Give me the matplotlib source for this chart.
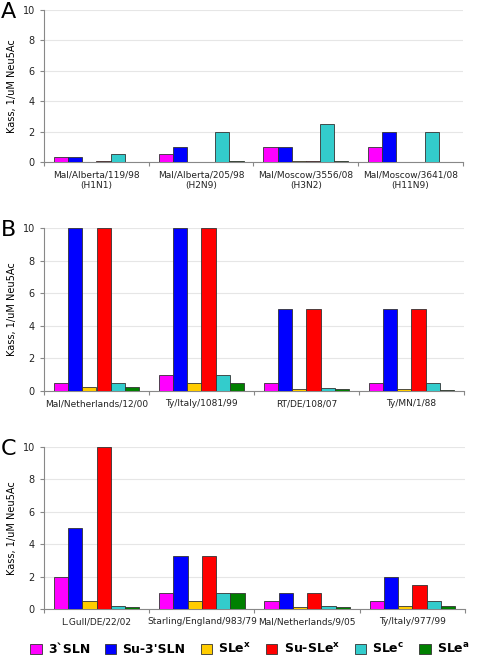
import numpy as np
import matplotlib
matplotlib.use("Agg")
from matplotlib import pyplot as plt
from matplotlib.patches import Patch

series = ["3`SLN", "Su-3'SLN", "SLe$^\\mathbf{x}$", "Su-SLe$^\\mathbf{x}$", "SLe$^\\mathbf{c}$", "SLe$^\\mathbf{a}$"]
colors = ["#ff00ff", "#0000ff", "#ffcc00", "#ff0000", "#33cccc", "#008000"]

strains_a = ["Mal/Alberta/119/98\n(H1N1)", "Mal/Alberta/205/98\n(H2N9)",
             "Mal/Moscow/3556/08\n(H3N2)", "Mal/Moscow/3641/08\n(H11N9)"]
values_a = [[0.35, 0.35, 0, 0.05, 0.5, 0],
            [0.5, 1.0, 0, 0, 2.0, 0.05],
            [1.0, 1.0, 0.05, 0.05, 2.5, 0.05],
            [1.0, 2.0, 0, 0, 2.0, 0]]

strains_b = ["Mal/Netherlands/12/00", "Ty/Italy/1081/99", "RT/DE/108/07", "Ty/MN/1/88"]
values_b = [[0.5, 10, 0.25, 10, 0.5, 0.25],
            [1.0, 10, 0.5, 10, 1.0, 0.5],
            [0.5, 5, 0.15, 5, 0.2, 0.1],
            [0.5, 5, 0.15, 5, 0.5, 0.05]]

strains_c = ["L.Gull/DE/22/02", "Starling/England/983/79", "Mal/Netherlands/9/05", "Ty/Italy/977/99"]
values_c = [[2.0, 5.0, 0.5, 10, 0.2, 0.1],
            [1.0, 3.3, 0.5, 3.3, 1.0, 1.0],
            [0.5, 1.0, 0.1, 1.0, 0.2, 0.1],
            [0.5, 2.0, 0.2, 1.45, 0.5, 0.2]]

fig = plt.figure(figsize=(5, 6.57), dpi=100)

panels = [("A", strains_a, values_a, [0.088, 0.7534, 0.838, 0.2314]),
          ("B", strains_b, values_b, [0.088, 0.4049, 0.840, 0.2481]),
          ("C", strains_c, values_c, [0.088, 0.0731, 0.842, 0.2466])]

w = 0.135
for letter, strains, vals, pos in panels:
    ax = fig.add_axes(pos)
    vals = np.array(vals)
    for j in range(len(series)):
        xs = np.arange(len(strains)) + 0.095 + w * j + w / 2
        ax.bar(xs, vals[:, j], width=w, color=colors[j], edgecolor="#333333", linewidth=0.6, zorder=3)
    ax.set_xlim(0, len(strains))
    ax.set_ylim(0, 10)
    ax.set_yticks([0, 2, 4, 6, 8, 10])
    ax.yaxis.grid(True, color="#e6e6e6", linewidth=0.8, zorder=0)
    ax.set_xticks(np.arange(len(strains) + 1))
    ax.set_xticklabels([])
    ax.set_xticks(np.arange(len(strains)) + 0.5, minor=True)
    ax.set_xticklabels(strains, minor=True, fontsize=6.5, color="#222222")
    ax.tick_params(axis="x", which="minor", length=0, pad=6)
    ax.tick_params(axis="x", which="major", length=3, color="#888888")
    ax.tick_params(axis="y", labelsize=7, length=3, color="#888888", labelcolor="#222222")
    for s in ["top", "right"]:
        ax.spines[s].set_visible(False)
    for s in ["left", "bottom"]:
        ax.spines[s].set_color("#888888")
    ax.set_ylabel("Kass, 1/uM Neu5Ac", fontsize=7)
    ax.text(-0.085, 0.985, letter, transform=ax.transAxes, fontsize=16, ha="center", va="center")

handles = [Patch(facecolor=c, edgecolor="#333333", linewidth=0.6) for c in colors]
fig.legend(handles, series, loc="center", bbox_to_anchor=(0.5, 0.012), ncol=6,
           frameon=False, prop={"weight": "bold", "size": 9}, handlelength=0.9,
           handleheight=0.9, columnspacing=1.2, handletextpad=0.5,
           borderpad=0, borderaxespad=0)

fig.savefig("out.png", dpi=100)
